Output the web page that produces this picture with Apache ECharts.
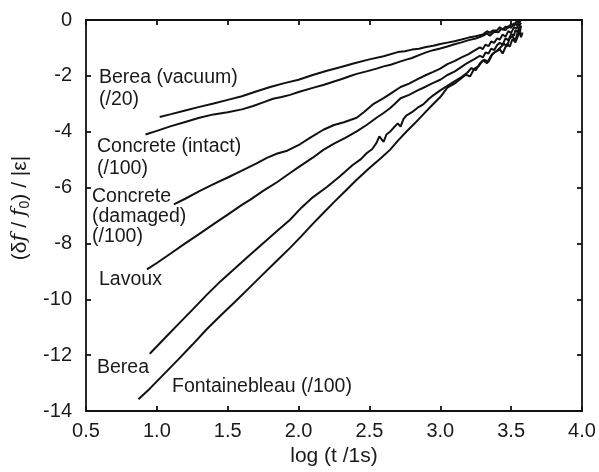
<!DOCTYPE html>
<html>
<head>
<meta charset="utf-8">
<script src="https://cdn.jsdelivr.net/npm/echarts@6/dist/echarts.min.js"></script>
<style>html,body{margin:0;padding:0;background:#fff}#c{width:599px;height:472px}</style>
</head>
<body>
<div id="c"></div>
<script>
const xTicks = [0.5, 1.0, 1.5, 2.0, 2.5, 3.0, 3.5, 4.0];
const yTicks = [0, -2, -4, -6, -8, -10, -12, -14];

const bereaVacuum = [[1.02,-3.47],[1.10,-3.37],[1.20,-3.24],[1.30,-3.11],[1.40,-2.99],[1.50,-2.86],[1.60,-2.73],[1.70,-2.56],[1.80,-2.40],[1.90,-2.26],[2.00,-2.14],[2.10,-1.97],[2.20,-1.82],[2.30,-1.68],[2.40,-1.54],[2.50,-1.41],[2.60,-1.30],[2.70,-1.15],[2.75,-1.12],[2.80,-1.06],[2.85,-1.03],[2.90,-0.97],[2.95,-0.92],[3.00,-0.86],[3.05,-0.81],[3.10,-0.76],[3.15,-0.70],[3.20,-0.63],[3.25,-0.58],[3.30,-0.52],[3.33,-0.40],[3.35,-0.46],[3.37,-0.38],[3.40,-0.37],[3.42,-0.26],[3.44,-0.34],[3.46,-0.24],[3.48,-0.28],[3.50,-0.14],[3.52,-0.20],[3.54,-0.04],[3.56,-0.08],[3.57,0.00]];

const concreteIntact = [[0.92,-4.10],[1.00,-3.97],[1.10,-3.80],[1.20,-3.65],[1.30,-3.50],[1.40,-3.38],[1.50,-3.30],[1.60,-3.20],[1.68,-3.08],[1.75,-2.95],[1.82,-2.82],[1.88,-2.76],[1.94,-2.68],[2.00,-2.58],[2.10,-2.43],[2.18,-2.32],[2.25,-2.20],[2.30,-2.12],[2.35,-2.03],[2.41,-1.93],[2.48,-1.84],[2.55,-1.74],[2.60,-1.66],[2.65,-1.60],[2.72,-1.48],[2.76,-1.42],[2.80,-1.36],[2.85,-1.26],[2.90,-1.16],[2.95,-1.08],[3.00,-1.02],[3.05,-0.95],[3.10,-0.87],[3.15,-0.80],[3.20,-0.72],[3.25,-0.66],[3.30,-0.57],[3.33,-0.48],[3.35,-0.56],[3.38,-0.42],[3.41,-0.44],[3.43,-0.32],[3.46,-0.36],[3.48,-0.22],[3.50,-0.28],[3.52,-0.12],[3.54,-0.18],[3.56,-0.02]];

const concreteDamaged = [[1.12,-6.60],[1.20,-6.40],[1.30,-6.13],[1.40,-5.88],[1.50,-5.64],[1.60,-5.39],[1.70,-5.14],[1.78,-4.93],[1.85,-4.78],[1.92,-4.68],[1.97,-4.55],[2.01,-4.45],[2.08,-4.22],[2.175,-3.93],[2.25,-3.76],[2.32,-3.66],[2.41,-3.50],[2.46,-3.30],[2.53,-3.00],[2.60,-2.80],[2.66,-2.60],[2.72,-2.40],[2.78,-2.28],[2.84,-2.12],[2.90,-1.97],[2.95,-1.86],[3.00,-1.74],[3.05,-1.58],[3.10,-1.47],[3.15,-1.34],[3.20,-1.22],[3.24,-1.10],[3.28,-0.98],[3.30,-1.04],[3.32,-0.88],[3.34,-0.94],[3.36,-0.77],[3.38,-0.82],[3.40,-0.66],[3.42,-0.70],[3.44,-0.52],[3.46,-0.60],[3.48,-0.40],[3.50,-0.46],[3.52,-0.26],[3.54,-0.30],[3.56,-0.04]];

const lavoux = [[0.93,-8.93],[1.00,-8.70],[1.10,-8.35],[1.20,-8.00],[1.30,-7.66],[1.40,-7.31],[1.50,-6.97],[1.60,-6.62],[1.66,-6.43],[1.75,-6.12],[1.85,-5.80],[1.94,-5.48],[2.00,-5.27],[2.10,-4.93],[2.175,-4.65],[2.25,-4.43],[2.33,-4.22],[2.41,-3.99],[2.48,-3.76],[2.55,-3.50],[2.60,-3.33],[2.645,-3.16],[2.68,-3.00],[2.72,-2.80],[2.78,-2.68],[2.84,-2.52],[2.90,-2.38],[2.95,-2.25],[3.00,-2.14],[3.05,-1.97],[3.10,-1.85],[3.15,-1.68],[3.19,-1.54],[3.24,-1.40],[3.28,-1.28],[3.30,-1.34],[3.32,-1.16],[3.34,-1.20],[3.36,-1.02],[3.38,-1.08],[3.40,-0.90],[3.42,-0.82],[3.44,-0.88],[3.46,-0.66],[3.48,-0.72],[3.50,-0.50],[3.52,-0.56],[3.53,-0.36],[3.55,-0.44],[3.56,-0.18],[3.57,-0.10]];

const berea = [[0.95,-11.95],[1.05,-11.42],[1.15,-10.90],[1.25,-10.38],[1.35,-9.85],[1.45,-9.35],[1.55,-8.90],[1.65,-8.44],[1.75,-7.99],[1.85,-7.55],[1.94,-7.15],[2.02,-6.72],[2.10,-6.35],[2.20,-5.98],[2.29,-5.60],[2.38,-5.20],[2.44,-4.98],[2.48,-4.77],[2.52,-4.62],[2.55,-4.40],[2.57,-4.17],[2.60,-4.36],[2.62,-4.10],[2.645,-4.00],[2.67,-3.86],[2.70,-3.70],[2.72,-3.82],[2.74,-3.55],[2.76,-3.42],[2.80,-3.30],[2.84,-3.14],[2.88,-3.02],[2.92,-2.82],[2.95,-2.70],[3.00,-2.52],[3.05,-2.36],[3.10,-2.20],[3.15,-2.04],[3.19,-1.89],[3.22,-1.72],[3.25,-1.80],[3.28,-1.55],[3.31,-1.42],[3.34,-1.50],[3.37,-1.20],[3.40,-1.10],[3.42,-1.00],[3.45,-0.85],[3.47,-0.95],[3.49,-0.66],[3.51,-0.58],[3.53,-0.75],[3.55,-0.35],[3.56,-0.50],[3.57,-0.20]];

const fontainebleau = [[0.87,-13.58],[0.95,-13.20],[1.05,-12.68],[1.15,-12.16],[1.25,-11.63],[1.35,-11.08],[1.45,-10.58],[1.55,-10.10],[1.65,-9.60],[1.75,-9.10],[1.85,-8.60],[1.94,-8.16],[2.02,-7.74],[2.10,-7.30],[2.175,-6.91],[2.25,-6.52],[2.33,-6.12],[2.41,-5.72],[2.50,-5.30],[2.58,-4.95],[2.645,-4.65],[2.70,-4.33],[2.76,-4.00],[2.82,-3.70],[2.88,-3.38],[2.94,-3.06],[3.00,-2.76],[3.05,-2.42],[3.10,-2.28],[3.14,-2.12],[3.18,-1.96],[3.21,-2.02],[3.24,-1.74],[3.27,-1.66],[3.30,-1.44],[3.33,-1.55],[3.36,-1.26],[3.39,-1.14],[3.42,-1.05],[3.44,-1.20],[3.47,-0.86],[3.49,-0.95],[3.51,-0.68],[3.53,-0.80],[3.55,-0.55],[3.56,-0.40],[3.57,-0.62],[3.58,-0.45]];

const seriesData = [bereaVacuum, concreteIntact, concreteDamaged, lavoux, berea, fontainebleau];

const FONT = '"Liberation Sans", Arial, Helvetica, sans-serif';
const TXT = '#1a1a1a';
const chart = echarts.init(document.getElementById('c'), null, {renderer: 'canvas'});

function axisCommon(showLabel) {
  return {
    axisLine: {show: true, onZero: false, lineStyle: {color: '#111', width: 1.8}},
    axisTick: {show: true, inside: true, length: 5, lineStyle: {color: '#111', width: 1.8}},
    splitLine: {show: false},
    axisLabel: {show: showLabel, color: TXT, fontFamily: FONT, fontSize: 20}
  };
}

const labels = [
  {t: 'Berea (vacuum)', x: 99, y: 78},
  {t: '(/20)', x: 99, y: 100},
  {t: 'Concrete (intact)', x: 97, y: 147},
  {t: '(/100)', x: 97, y: 169},
  {t: 'Concrete', x: 92, y: 197},
  {t: '(damaged)', x: 92, y: 217},
  {t: '(/100)', x: 92, y: 237},
  {t: 'Lavoux', x: 99, y: 280},
  {t: 'Berea', x: 97, y: 368},
  {t: 'Fontainebleau (/100)', x: 172, y: 387}
];

const graphics = labels.map(l => ({
  type: 'text', x: l.x, y: l.y, z: 10,
  style: {text: l.t, fill: TXT, font: '19.5px ' + FONT, align: 'left', verticalAlign: 'middle', textAlign: 'left', textVerticalAlign: 'middle'}
}));
graphics.push({
  type: 'text', x: 20, y: 208, rotation: Math.PI / 2, z: 10,
  style: {
    text: '{a|(δ}{i|f}{a| / }{i|f}{s|0}{a|) / |ε|}',
    align: 'center', verticalAlign: 'middle', textAlign: 'center', textVerticalAlign: 'middle',
    fill: TXT,
    rich: {
      a: {fontSize: 21, fontFamily: FONT, fill: TXT, color: TXT, lineHeight: 24, verticalAlign: 'middle'},
      i: {fontSize: 21, fontFamily: '"DejaVu Serif", "Liberation Serif", serif', fontStyle: 'italic', fill: TXT, color: TXT, lineHeight: 24, verticalAlign: 'middle'},
      s: {fontSize: 14, fontFamily: FONT, fill: TXT, color: TXT, lineHeight: 24, verticalAlign: 'bottom'}
    }
  }
});

const option = {
  animation: false,
  backgroundColor: '#fff',
  grid: {left: 86, right: 17, top: 20, bottom: 60, containLabel: false},
  xAxis: [
    Object.assign({
      type: 'value', min: xTicks[0], max: xTicks[xTicks.length - 1], interval: 0.5, position: 'bottom',
      name: 'log (t /1s)', nameLocation: 'middle', nameGap: 35,
      nameTextStyle: {color: TXT, fontFamily: FONT, fontSize: 21}
    }, axisCommon(true), {axisLabel: {show: true, color: TXT, fontFamily: FONT, fontSize: 20, margin: 10, formatter: v => v.toFixed(1)}}),
    Object.assign({type: 'value', min: xTicks[0], max: xTicks[xTicks.length - 1], interval: 0.5, position: 'top'}, axisCommon(false))
  ],
  yAxis: [
    Object.assign({
      type: 'value', min: yTicks[yTicks.length - 1], max: yTicks[0], interval: 2, position: 'left'
    }, axisCommon(true), {axisLabel: {show: true, color: TXT, fontFamily: FONT, fontSize: 20, margin: 14}}),
    Object.assign({type: 'value', min: yTicks[yTicks.length - 1], max: yTicks[0], interval: 2, position: 'right'}, axisCommon(false))
  ],
  series: seriesData.map(d => ({
    type: 'line', data: d, xAxisIndex: 0, yAxisIndex: 0,
    showSymbol: false, symbol: 'none', smooth: false,
    lineStyle: {color: '#111', width: 2},
    silent: true
  })),
  graphic: graphics
};
chart.setOption(option);
</script>
</body>
</html>
